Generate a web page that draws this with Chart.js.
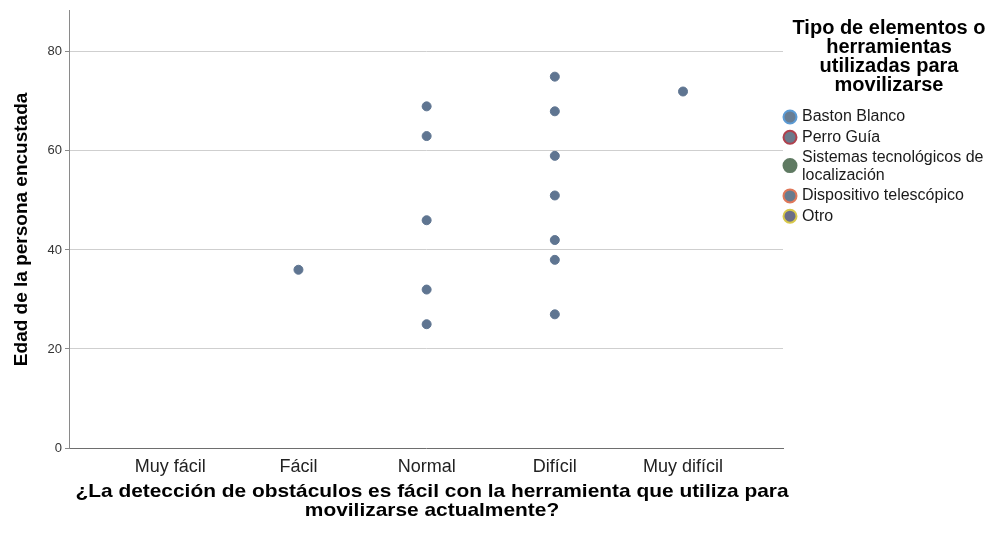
<!DOCTYPE html>
<html lang="es">
<head>
<meta charset="utf-8">
<title>Edad según facilidad de detección de obstáculos</title>
<script src="https://cdn.jsdelivr.net/npm/chart.js@4/dist/chart.umd.min.js"></script>
<style>
  html, body { margin: 0; padding: 0; background: #ffffff; }
  #wrap { width: 992px; height: 535px; position: relative; }
</style>
</head>
<body>
<div id="wrap"><canvas id="chart" width="992" height="535"></canvas></div>
<script>
// Response categories on the horizontal axis (index = x position)
const categories = ['Muy fácil', 'Fácil', 'Normal', 'Difícil', 'Muy difícil'];

// Ages of respondents per category (Baston Blanco users)
const agesFacil = [36];
const agesNormal = [69, 63, 46, 32, 25];
const agesDificil = [75, 68, 59, 51, 42, 38, 27];
const agesMuyDificil = [72];

// Legend groups: tool used to get around
const toolLabels = [
  'Baston Blanco',
  'Perro Guía',
  ['Sistemas tecnológicos de', 'localización'],
  'Dispositivo telescópico',
  'Otro'
];

const yTicks = [0, 20, 40, 60, 80];

const xTitleLines = [
  '¿La detección de obstáculos es fácil con la herramienta que utiliza para',
  'movilizarse actualmente?'
];
const legendTitleLines = ['Tipo de elementos o', 'herramientas', 'utilizadas para', 'movilizarse'];

// Marker colours for each legend group
const toolFill = ['#687d93', '#6b7a8c', '#5f7a62', '#687b8e', '#6b6e88'];
const toolStroke = ['#5b9bd5', '#b0404d', '#5f7a62', '#e0785a', '#d8c84a'];

const FONT = "'Liberation Sans', Arial, Helvetica, sans-serif";

function toPoints(catIndex, ages) {
  return ages.map(a => ({ x: catIndex, y: a }));
}

const bastonPoints = [
  ...toPoints(1, agesFacil),
  ...toPoints(2, agesNormal),
  ...toPoints(3, agesDificil),
  ...toPoints(4, agesMuyDificil)
];

const datasets = toolLabels.map((lbl, i) => ({
  label: Array.isArray(lbl) ? lbl.join(' ') : lbl,
  data: i === 0 ? bastonPoints : [],
  pointRadius: 4.5,
  pointHoverRadius: 4.5,
  pointBackgroundColor: '#5f7591',
  pointBorderColor: '#5f7591',
  pointBorderWidth: 1
}));

// Horizontal axis title and legend block to the right of the plot
const sideLegend = {
  id: 'sideLegend',
  afterDraw(chart) {
    const ctx = chart.ctx;
    ctx.save();
    ctx.fillStyle = '#000';
    ctx.textAlign = 'center';
    ctx.textBaseline = 'middle';

    // axis title, slightly widened lettering
    ctx.save();
    ctx.translate(432, 0);
    ctx.scale(1.1, 1);
    ctx.font = 'bold 19px ' + FONT;
    xTitleLines.forEach((t, i) => ctx.fillText(t, 0, 492 + i * 18.5));
    ctx.restore();

    ctx.font = 'bold 20px ' + FONT;
    legendTitleLines.forEach((t, i) => ctx.fillText(t, 889, 28 + i * 19.3));

    ctx.textAlign = 'left';
    ctx.font = '16px ' + FONT;
    let y = 117;
    toolLabels.forEach((lbl, i) => {
      const lines = Array.isArray(lbl) ? lbl : [lbl];
      const cy = y + (lines.length - 1) * 8;
      ctx.beginPath();
      ctx.arc(790, cy, 6.5, 0, Math.PI * 2);
      ctx.fillStyle = toolFill[i];
      ctx.fill();
      ctx.lineWidth = 2;
      ctx.strokeStyle = toolStroke[i];
      ctx.stroke();
      ctx.fillStyle = '#1a1a1a';
      lines.forEach((ln, k) => ctx.fillText(ln, 802, y + k * 18));
      y += 20.3 + (lines.length - 1) * 18;
    });
    ctx.restore();
  }
};

new Chart(document.getElementById('chart'), {
  type: 'scatter',
  data: { datasets },
  plugins: [sideLegend],
  options: {
    responsive: false,
    animation: false,
    layout: { padding: { top: 10, right: 209, left: 0, bottom: 0 } },
    plugins: {
      legend: { display: false },
      tooltip: { enabled: false }
    },
    scales: {
      x: {
        type: 'linear',
        min: -0.79,
        max: 4.78,
        afterBuildTicks: s => { s.ticks = categories.map((_, i) => ({ value: i })); },
        afterFit: s => { s.height = 87; },
        grid: { display: false, drawTicks: false },
        border: { display: true, color: '#6e6e6e', width: 1 },
        ticks: {
          autoSkip: false,
          maxRotation: 0,
          padding: 8,
          color: '#222',
          font: { family: FONT, size: 18, lineHeight: 1.2 },
          callback: v => categories[v] ?? ''
        },
        title: { display: false }
      },
      y: {
        min: 0,
        max: 88.3,
        afterBuildTicks: s => { s.ticks = yTicks.map(v => ({ value: v })); },
        afterFit: s => { s.width = 69; },
        grid: {
          color: ctx => (ctx.tick && ctx.tick.value === 0) ? 'rgba(0,0,0,0)' : '#cfcfcf',
          tickColor: '#8a8a8a',
          tickLength: 4,
          drawTicks: true,
          lineWidth: 1
        },
        border: { display: true, color: '#8a8a8a', width: 1 },
        ticks: {
          padding: 3,
          color: '#333',
          font: { family: FONT, size: 13 }
        },
        title: {
          display: true,
          text: 'Edad de la persona encustada',
          color: '#000',
          font: { family: FONT, size: 19, weight: 'bold', lineHeight: 1.2 },
          padding: { top: 10.5, bottom: 0 }
        }
      }
    }
  }
});
</script>
</body>
</html>
